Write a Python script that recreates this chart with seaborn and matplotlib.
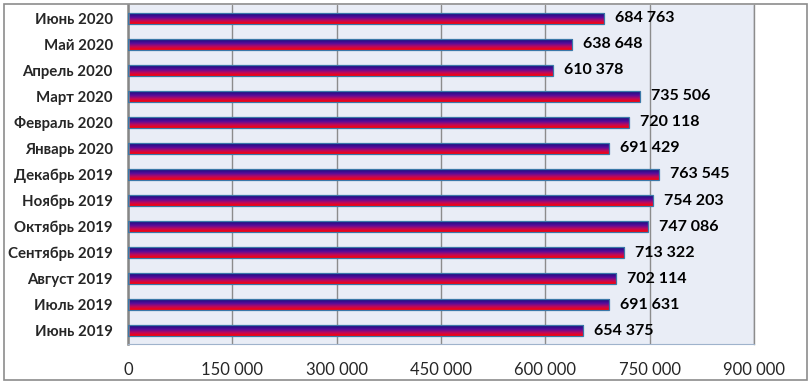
import numpy as np
import pandas as pd
import seaborn as sns
import matplotlib.pyplot as plt
from matplotlib.colors import LinearSegmentedColormap
from matplotlib.patches import Rectangle

months = ["Июнь 2020", "Май 2020", "Апрель 2020", "Март 2020", "Февраль 2020",
          "Январь 2020", "Декабрь 2019", "Ноябрь 2019", "Октябрь 2019",
          "Сентябрь 2019", "Август 2019", "Июль 2019", "Июнь 2019"]
values = [684763, 638648, 610378, 735506, 720118, 691429, 763545,
          754203, 747086, 713322, 702114, 691631, 654375]
x_ticks = [0, 150000, 300000, 450000, 600000, 750000, 900000]

df = pd.DataFrame({"month": months, "value": values})

sns.set_style("white")
plt.rcParams['font.family'] = ['Lato', 'DejaVu Sans']

fig = plt.figure(figsize=(8.12, 3.85), dpi=100)
ax = fig.add_axes([128 / 812, 1 - 344 / 385, 626 / 812, 339 / 385])
ax.set_facecolor("#E9EDF6")

sns.barplot(data=df, y="month", x="value", orient="h", width=0.42,
            color="#7a1a8a", ax=ax)

# gradient fill for the bars: dark blue top -> purple -> red bottom
cmap = LinearSegmentedColormap.from_list(
    "grad", [(0.0, "#10107a"), (0.4, "#5a0c9c"), (0.7, "#c00a5a"),
             (1.0, "#ff0000")])
grad = np.linspace(0, 1, 64).reshape(-1, 1)
for p in ax.patches:
    x0, y0 = p.get_x(), p.get_y()
    w, h = p.get_width(), p.get_height()
    im = ax.imshow(grad, cmap=cmap, aspect="auto", origin="upper",
                   interpolation="bilinear",
                   extent=[x0, x0 + w, y0 + h, y0], zorder=2)
    im.set_clip_path(p)
    p.set_facecolor("none")
    p.set_edgecolor("#3b78a8")
    p.set_linewidth(0.9)
    p.set_zorder(3)

for i, v in enumerate(values):
    ax.annotate(f"{v:,}".replace(",", " "), xy=(v, i), xytext=(8, 0),
                textcoords="offset points", va="center", ha="left",
                fontsize=11.5, fontweight="bold", color="black")

ax.set_xlim(0, 900000)
ax.set_ylim(len(months) - 0.5, -0.5)
ax.set_xticks(x_ticks)
ax.set_xticklabels([f"{t:,}".replace(",", " ") for t in x_ticks], fontsize=12)
ax.set_yticks(range(len(months)))
ax.set_yticklabels(months, fontsize=10.8, fontweight="bold")
ax.set_yticks(np.arange(-0.5, len(months), 1), minor=True)
ax.tick_params(axis="y", which="major", length=0, pad=11)
ax.tick_params(axis="y", which="minor", length=5, width=1.5, color="#868686")
ax.tick_params(axis="x", length=5, width=1, color="#868686", pad=8)
ax.grid(axis="x", color="#8c8c8c", linewidth=1)
ax.set_axisbelow(True)
ax.set_xlabel("")
ax.set_ylabel("")

ax.spines["top"].set_visible(False)
ax.spines["right"].set_color("#8c8c8c")
ax.spines["right"].set_linewidth(1)
ax.spines["left"].set_color("#868686")
ax.spines["left"].set_linewidth(1.8)
ax.spines["bottom"].set_color("#9fb3cc")
ax.spines["bottom"].set_linewidth(0.8)

fig.patches.append(Rectangle((4 / 812, 1 - 380 / 385), 803 / 812, 376 / 385,
                             transform=fig.transFigure, fill=False,
                             edgecolor="#8c8c8c", linewidth=1.2))

fig.savefig("out.png", dpi=100)
